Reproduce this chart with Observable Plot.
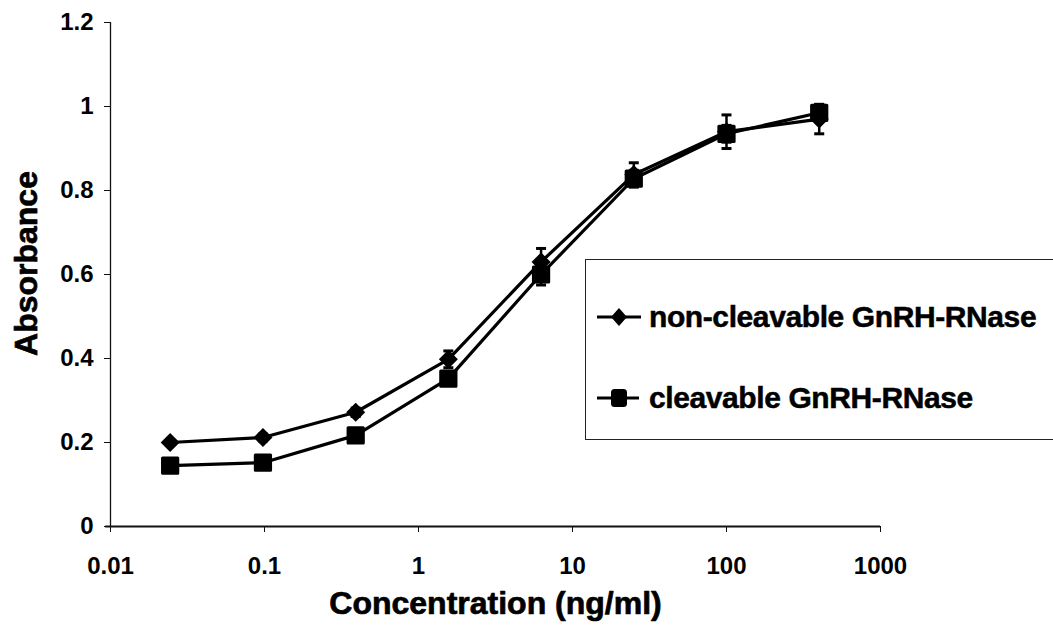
<!DOCTYPE html>
<html>
<head>
<meta charset="utf-8">
<script src="https://cdn.jsdelivr.net/npm/d3@7"></script>
<script src="https://cdn.jsdelivr.net/npm/@observablehq/plot@0.6"></script>
<style>
  html, body { margin: 0; padding: 0; background: #fff; }
  #wrap { position: relative; width: 1053px; height: 629px; overflow: hidden; font-family: "Liberation Sans", Arial, sans-serif; }
  #legend { position: absolute; left: 585px; top: 259px; width: 480px; height: 181px; border: 1.5px solid #222; box-sizing: border-box; background: #fff; }
  .entry { position: absolute; left: 10px; display: flex; align-items: center; font-weight: bold; font-size: 30px; color: #000; letter-spacing: -0.4px; white-space: nowrap; -webkit-text-stroke: 0.5px #000; }
  .entry svg { margin-right: 7px; }
</style>
</head>
<body>
<div id="wrap"><div id="chart"></div><div id="legend"></div></div>
<script>
const concentrations = [0.0244, 0.0977, 0.391, 1.5625, 6.25, 25, 100, 400];
const seriesNames = ["non-cleavable GnRH-RNase", "cleavable GnRH-RNase"];
const nonCleavable = [0.200, 0.212, 0.272, 0.398, 0.630, 0.838, 0.940, 0.970];
const nonCleavableErr = [0.006, 0.008, 0.010, 0.020, 0.032, 0.028, 0.040, 0.035];
const cleavable = [0.145, 0.152, 0.217, 0.352, 0.600, 0.828, 0.935, 0.985];
const cleavableErr = [0.008, 0.008, 0.012, 0.015, 0.025, 0.020, 0.020, 0.020];
const xTicks = [0.01, 0.1, 1, 10, 100, 1000];
const xTickLabels = ["0.01", "0.1", "1", "10", "100", "1000"];
const yTicks = [0, 0.2, 0.4, 0.6, 0.8, 1, 1.2];
const yTickLabels = ["0", "0.2", "0.4", "0.6", "0.8", "1", "1.2"];

const data = [];
concentrations.forEach((c, i) => {
  data.push({x: c, y: nonCleavable[i], e: nonCleavableErr[i], s: seriesNames[0]});
  data.push({x: c, y: cleavable[i], e: cleavableErr[i], s: seriesNames[1]});
});
const dataA = data.filter(d => d.s === seriesNames[0]);
const dataB = data.filter(d => d.s === seriesNames[1]);

const capSymbol = { draw(ctx, size) { const r = 5; ctx.moveTo(-r, 0); ctx.lineTo(r, 0); } };

const font = "'Liberation Sans', Arial, sans-serif";

const chart = Plot.plot({
  width: 1053,
  height: 629,
  marginLeft: 110,
  marginRight: 173,
  marginTop: 22,
  marginBottom: 103,
  style: { fontFamily: font, background: "#fff", overflow: "visible" },
  x: { type: "log", domain: [0.01, 1000] },
  y: { domain: [0, 1.2] },
  marks: [
    Plot.ruleX([0.01], { y1: 0, y2: 1.2, stroke: "#111", strokeWidth: 1.3 }),
    Plot.ruleY([0], { x1: 0.0093, x2: 1000, stroke: "#111", strokeWidth: 1.8 }),
    Plot.axisX({ ticks: xTicks, tickFormat: d => xTickLabels[xTicks.indexOf(d)], tickSize: 6, tickPadding: 24, fontSize: 24, fontWeight: "bold", stroke: "#111", fill: "#000", label: null }),
    Plot.axisY({ ticks: yTicks, tickFormat: d => yTickLabels[yTicks.indexOf(d)], tickSize: 6, tickPadding: 11, fontSize: 24, fontWeight: "bold", stroke: "#111", fill: "#000", label: null }),
    Plot.text(["Concentration (ng/ml)"], { frameAnchor: "bottom", dy: 87, fontSize: 32, fontWeight: "bold", fill: "#000", stroke: "#000", strokeWidth: 0.7, text: d => d }),
    Plot.text(["Absorbance"], { frameAnchor: "left", textAnchor: "middle", dx: -84, dy: -11, rotate: -90, fontSize: 32, fontWeight: "bold", fill: "#000", stroke: "#000", strokeWidth: 0.7, text: d => d }),
    Plot.ruleX(data, { x: "x", y1: d => d.y - d.e, y2: d => d.y + d.e, stroke: "#000", strokeWidth: 2.5 }),
    Plot.dot(data, { x: "x", y: d => d.y - d.e, symbol: capSymbol, stroke: "#000", strokeWidth: 3, r: 5 }),
    Plot.dot(data, { x: "x", y: d => d.y + d.e, symbol: capSymbol, stroke: "#000", strokeWidth: 3, r: 5 }),
    Plot.line(data, { x: "x", y: "y", z: "s", stroke: "#000", strokeWidth: 3.2 }),
    Plot.dot(dataA, { x: "x", y: "y", symbol: "diamond2", r: 7.6, fill: "#000", stroke: "#000", strokeWidth: 1.5 }),
    Plot.dot(dataB, { x: "x", y: "y", symbol: "square", r: 8.6, fill: "#000", stroke: "#000", strokeWidth: 3, strokeLinejoin: "round" })
  ]
});
document.getElementById("chart").appendChild(chart);

// legend
const legend = document.getElementById("legend");
const markers = [
  `<svg width="46" height="24" viewBox="-23 -12 46 24"><line x1="-22" x2="22" y1="0" y2="0" stroke="#000" stroke-width="3"/><path d="M0,-9L8,0L0,9L-8,0Z" fill="#000"/></svg>`,
  `<svg width="46" height="24" viewBox="-23 -12 46 24"><line x1="-22" x2="20" y1="0" y2="0" stroke="#000" stroke-width="3"/><rect x="-7" y="-8" width="14" height="16" rx="2.5" fill="#000" stroke="#000" stroke-width="2"/></svg>`
];
const tops = [40, 121];
seriesNames.forEach((name, i) => {
  const div = document.createElement("div");
  div.className = "entry";
  div.style.top = tops[i] + "px";
  div.innerHTML = markers[i] + `<span>${name}</span>`;
  legend.appendChild(div);
});
</script>
</body>
</html>
